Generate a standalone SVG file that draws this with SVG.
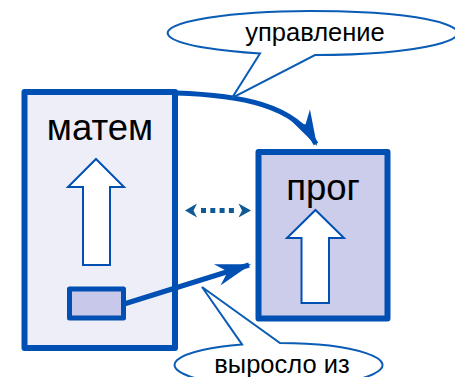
<svg xmlns="http://www.w3.org/2000/svg" width="455" height="377" viewBox="0 0 455 377">
  <style>
    .box { stroke: #0050B4; stroke-width: 6; stroke-linejoin: round; }
    .hollow { fill: #FFFFFF; stroke: #0050B4; stroke-width: 2; }
    .big { font-family: "Liberation Sans", Arial, sans-serif; font-size: 36.5px; fill: #000; text-anchor: middle; }
    .note { font-family: "Liberation Sans", Arial, sans-serif; font-size: 25.5px; fill: #000; text-anchor: middle; }
    .callout { fill: #FFFFFF; stroke: #0A5CB4; stroke-width: 2; stroke-linejoin: miter; }
    .link { fill: none; stroke: #0050B4; stroke-width: 5; }
    .dots { fill: none; stroke: #0F5A96; stroke-width: 5; stroke-dasharray: 5 4.3; }
    .dothead { fill: #0F5A96; }
  </style>
  <defs>
    <marker id="stealth" markerUnits="userSpaceOnUse" markerWidth="40" markerHeight="30" viewBox="-32 -12 36 24" refX="0" refY="0" orient="auto">
      <path d="M2,0 L-30,-10 L-20,0 L-30,10 Z" fill="#0050B4"/>
    </marker>
  </defs>

  <!-- matem block -->
  <g id="matem">
    <rect class="box" x="24.5" y="92" width="150.5" height="256" fill="#EEEEF8"/>
    <text class="big" x="100" y="140">матем</text>
    <path class="hollow" d="M96,159 L124,187 L110,187 L110,265 L83,265 L83,187 L68,187 Z"/>
  </g>

  <!-- small source block inside matem -->
  <g id="origin">
    <rect x="69.5" y="289" width="54" height="29" fill="#C8C8EA" stroke="#0050B4" stroke-width="5" stroke-linejoin="round"/>
  </g>

  <!-- prog block -->
  <g id="prog">
    <rect class="box" x="258.5" y="152" width="129" height="166.5" fill="#CCCCEB"/>
    <text class="big" x="323" y="200">прог</text>
    <path class="hollow" d="M315.5,210 L344,238 L329,238 L329,303 L301.5,303 L301.5,238 L287,238 Z"/>
  </g>

  <!-- connectors -->
  <g id="connectors">
    <path class="link" d="M176,93 C240,95 295,105 316,144" marker-end="url(#stealth)"/>
    <path class="link" d="M124,304 L249,265" marker-end="url(#stealth)"/>
    <path class="dots" d="M201,210.5 L235,210.5"/>
    <path class="dothead" d="M185,210.5 L197,203.5 L193.5,210.5 L197,217.5 Z"/>
    <path class="dothead" d="M251,210.5 L238.5,203.5 L242,210.5 L238.5,217.5 Z"/>
  </g>

  <!-- callout: control -->
  <g id="callout-control">
    <path class="callout" d="M260,53.5 L232,98 L315,55 A145,22 0 1 0 260,53.5 Z"/>
    <text class="note" x="315" y="41">управление</text>
  </g>

  <!-- callout: grown from -->
  <g id="callout-origin">
    <path class="callout" d="M242,344.4 L202,287 L280,343 A104,22 0 1 1 242,344.4 Z"/>
    <text class="note" x="282" y="373">выросло из</text>
  </g>
</svg>
